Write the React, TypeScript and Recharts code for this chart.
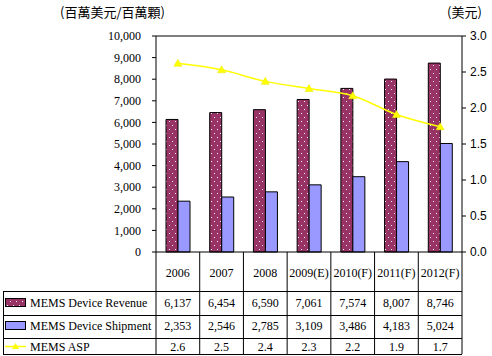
import { Bar, ComposedChart, Line, ReferenceLine, XAxis, YAxis } from "recharts";

const years = ["2006", "2007", "2008", "2009(E)", "2010(F)", "2011(F)", "2012(F)"];
const revenue = [6137, 6454, 6590, 7061, 7574, 8007, 8746];
const shipment = [2353, 2546, 2785, 3109, 3486, 4183, 5024];
const asp = [2.62, 2.53, 2.37, 2.27, 2.17, 1.91, 1.74];
const leftTicks = [0, 1000, 2000, 3000, 4000, 5000, 6000, 7000, 8000, 9000, 10000];
const rightTicks = [0, 0.5, 1, 1.5, 2, 2.5, 3];
const seriesNames = ["MEMS Device Revenue", "MEMS Device Shipment", "MEMS ASP"];

const data = years.map((year, i) => ({
  year,
  revenue: revenue[i],
  shipment: shipment[i],
  asp: asp[i],
}));

const W = 492;
const H = 356;
const PLOT_LEFT = 156;
const PLOT_RIGHT = 462;
const PLOT_TOP = 36;
const PLOT_BOTTOM = 252;
const HALF = (PLOT_RIGHT - PLOT_LEFT) / years.length / 2;
const ROW_LINES = [291, 315, 338, 354];
const ROW_TEXT = [303, 326, 347];
const SERIF = "'Liberation Serif', 'Times New Roman', serif";
const SANS = "'Liberation Sans', Arial, sans-serif";

const fmt = (v: number) => v.toLocaleString("en-US");

function Triangle(props: any) {
  const { cx, cy } = props;
  if (cx == null || cy == null) return null;
  return <polygon points={`${cx},${cy - 4} ${cx - 4},${cy + 3} ${cx + 4},${cy + 3}`} fill="#FFFF00" stroke="#E8E800" strokeWidth={0.5} />;
}

function TableTick(props: any) {
  const { x, payload } = props;
  const i = payload.index;
  const values = [fmt(revenue[i]), fmt(shipment[i]), asp[i].toFixed(1)];
  return (
    <g>
      {i === 0 && (
        <g>
          <line x1={x - HALF} x2={x - HALF} y1={PLOT_BOTTOM} y2={ROW_LINES[3]} stroke="#000" />
          <line x1={3.5} x2={3.5} y1={ROW_LINES[0]} y2={ROW_LINES[3]} stroke="#000" />
          {ROW_LINES.map((ly) => (
            <line key={ly} x1={3} x2={PLOT_RIGHT} y1={ly + 0.5} y2={ly + 0.5} stroke="#000" />
          ))}
          <rect x={5.5} y={298.5} width={20} height={8} fill="url(#dots)" stroke="#000" />
          <rect x={5.5} y={321.5} width={20} height={8} fill="#9999FF" stroke="#000" />
          <line x1={5} x2={26} y1={346.5} y2={346.5} stroke="#FFFF00" strokeWidth={1.5} />
          <polygon points="15.5,343 12,349 19,349" fill="#FFFF00" />
          {seriesNames.map((name, r) => (
            <text key={name} x={30} y={ROW_TEXT[r]} dy="0.35em" fontSize={12} fontFamily={SERIF} fill="#000">
              {name}
            </text>
          ))}
        </g>
      )}
      <line x1={x + HALF} x2={x + HALF} y1={PLOT_BOTTOM} y2={ROW_LINES[3]} stroke="#000" />
      <text x={x} y={273} dy="0.35em" textAnchor="middle" fontSize={12} fontFamily={SERIF} fill="#000">
        {payload.value}
      </text>
      {values.map((v, r) => (
        <text key={r} x={x} y={ROW_TEXT[r]} dy="0.35em" textAnchor="middle" fontSize={12} fontFamily={SERIF} fill="#000">
          {v}
        </text>
      ))}
    </g>
  );
}

export default function App() {
  return (
    <div style={{ position: "absolute", left: 0, top: 0, width: W, height: H, background: "#fff" }}>
      <div style={{ position: "absolute", left: 60, top: 3, fontSize: 13, fontFamily: "'Noto Sans CJK TC', sans-serif", color: "#000", lineHeight: "18px" }}>
        (百萬美元/百萬顆)
      </div>
      <div style={{ position: "absolute", left: 447, top: 3, fontSize: 13, fontFamily: "'Noto Sans CJK TC', sans-serif", color: "#000", lineHeight: "18px" }}>
        (美元)
      </div>
      <ComposedChart
        width={W}
        height={H}
        data={data}
        margin={{ top: PLOT_TOP, right: 0, bottom: 0, left: 0 }}
        barGap={0}
        barCategoryGap="21%"
      >
        <defs>
          <pattern id="dots" width="6" height="8" patternUnits="userSpaceOnUse">
            <rect width="6" height="8" fill="#993366" />
            <rect x="1" y="1" width="1" height="1" fill="#fff" />
            <rect x="4" y="5" width="1" height="1" fill="#fff" />
          </pattern>
        </defs>
        <XAxis
          dataKey="year"
          xAxisId="x"
          height={H - PLOT_TOP - (PLOT_BOTTOM - PLOT_TOP)}
          interval={0}
          tickLine={false}
          tickSize={0}
          tick={<TableTick />}
          axisLine={{ stroke: "#000" }}
        />
        <YAxis
          yAxisId="left"
          width={PLOT_LEFT}
          domain={[0, 10000]}
          ticks={leftTicks}
          tickFormatter={fmt}
          tickSize={4}
          tickMargin={11}
          axisLine={{ stroke: "#000" }}
          tickLine={{ stroke: "#000" }}
          tick={{ fill: "#000", fontSize: 12, fontFamily: SERIF }}
          interval={0}
        />
        <YAxis
          yAxisId="right"
          orientation="right"
          width={W - PLOT_RIGHT}
          domain={[0, 3]}
          ticks={rightTicks}
          tickFormatter={(v: number) => v.toFixed(1)}
          tickSize={4}
          tickMargin={4}
          axisLine={{ stroke: "#000" }}
          tickLine={{ stroke: "#000" }}
          tick={{ fill: "#000", fontSize: 12, fontFamily: SANS, textAnchor: "start" }}
          interval={0}
        />
        <ReferenceLine yAxisId="left" xAxisId="x" y={10000} stroke="#000" />
        <Bar xAxisId="x" yAxisId="left" dataKey="revenue" barSize={12} fill="url(#dots)" stroke="#000" strokeWidth={1} isAnimationActive={false} />
        <Bar xAxisId="x" yAxisId="left" dataKey="shipment" barSize={12} fill="#9999FF" stroke="#000" strokeWidth={1} isAnimationActive={false} />
        <Line
          xAxisId="x"
          yAxisId="right"
          dataKey="asp"
          type="monotone"
          stroke="#FFFF00"
          strokeWidth={1.5}
          dot={<Triangle />}
          activeDot={false}
          isAnimationActive={false}
        />
      </ComposedChart>
    </div>
  );
}
